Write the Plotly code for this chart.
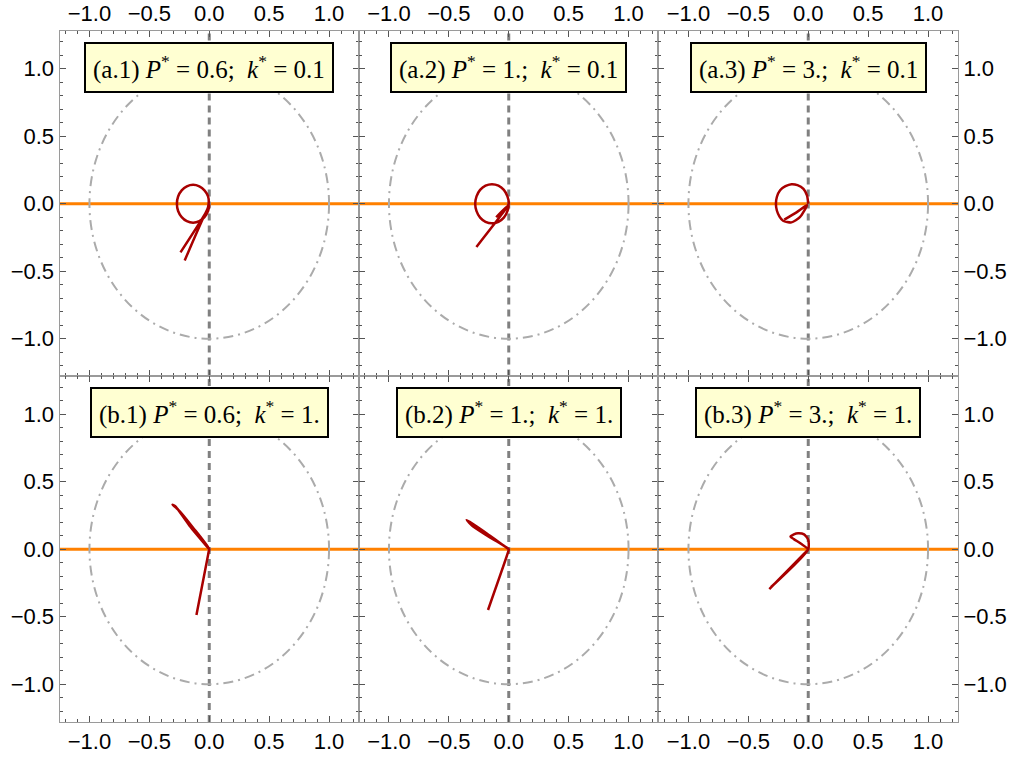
import plotly.graph_objects as go

# ---------------- data ----------------
panel_ids = ["(a.1)", "(a.2)", "(a.3)", "(b.1)", "(b.2)", "(b.3)"]
p_star = ["0.6", "1.", "3.", "0.6", "1.", "3."]
k_star = ["0.1", "0.1", "0.1", "1.", "1.", "1."]
tick_vals = [-1.0, -0.5, 0.0, 0.5, 1.0]
tick_text = ["\u22121.0", "\u22120.5", "0.0", "0.5", "1.0"]

a1_x = [-0.24, -0.02, -0.005, -0.010, -0.040, -0.083, -0.135, -0.187, -0.230, -0.260, -0.270,
        -0.260, -0.230, -0.187, -0.135, -0.083, -0.040, -0.010, 0.0, -0.205]
a1_y = [-0.36, -0.05, 0.0, 0.054, 0.099, 0.129, 0.14, 0.129, 0.099, 0.054, 0.0,
        -0.054, -0.099, -0.129, -0.14, -0.129, -0.099, -0.054, -0.01, -0.42]

a2_x = [-0.27, -0.01, 0.0, -0.011, -0.041, -0.086, -0.14, -0.194, -0.239, -0.269, -0.28,
        -0.269, -0.239, -0.194, -0.14, -0.086, -0.041, -0.011, -0.003, -0.105]
a2_y = [-0.32, -0.02, 0.0, 0.055, 0.103, 0.134, 0.145, 0.134, 0.103, 0.055, 0.0,
        -0.055, -0.103, -0.134, -0.145, -0.134, -0.103, -0.055, -0.012, -0.10]

a3_x = [0.0, -0.01, -0.04, -0.09, -0.14, -0.19, -0.235, -0.262, -0.27, -0.262, -0.24,
        -0.21, -0.14, -0.07, -0.01, -0.098, -0.20]
a3_y = [0.0, 0.06, 0.11, 0.138, 0.145, 0.13, 0.10, 0.05, 0.0, -0.05, -0.095,
        -0.126, -0.138, -0.10, -0.01, -0.064, -0.118]

b1_x = [-0.107, -0.005, 0.0, -0.135, -0.25, -0.307, -0.28, -0.165, 0.0]
b1_y = [-0.487, -0.02, 0.0, 0.16, 0.285, 0.33, 0.315, 0.175, 0.0]

b2_x = [-0.173, -0.005, 0.0, -0.17, -0.30, -0.352, -0.33, -0.18, 0.0]
b2_y = [-0.45, -0.02, 0.0, 0.095, 0.17, 0.217, 0.205, 0.115, 0.0]

b3_x = [-0.325, -0.01, 0.0, -0.06, -0.12, -0.148, -0.12, -0.085, -0.035, 0.0, 0.0, -0.31]
b3_y = [-0.295, -0.01, 0.0, 0.04, 0.075, 0.093, 0.11, 0.118, 0.11, 0.07, 0.0, -0.28]

curves_x = [a1_x, a2_x, a3_x, b1_x, b2_x, b3_x]
curves_y = [a1_y, a2_y, a3_y, b1_y, b2_y, b3_y]

# ---------------- layout ----------------
x_domains = [[0.05851, 0.35300], [0.35300, 0.64749], [0.64749, 0.94199]]
y_domains = [[0.50461, 0.95921], [0.05, 0.50461]]
x_range = [-1.25, 1.25]
y_range = [-1.28, 1.28]

RED = "#A80000"
ORANGE = "#FF8000"
DASHGRAY = "#808080"
CIRCGRAY = "#ABABAB"
TICKFONT = dict(family="Liberation Sans, Arial, sans-serif", size=22, color="black")
LABELFONT = dict(family="Liberation Serif, Times New Roman, serif", size=25, color="black")

fig = go.Figure()
layout = dict(
    width=1017, height=760,
    margin=dict(l=0, r=0, t=0, b=0),
    paper_bgcolor="white", plot_bgcolor="white",
    showlegend=False,
    shapes=[], annotations=[],
)

for i in range(6):
    row, col = divmod(i, 3)
    n = "" if i == 0 else str(i + 1)
    xa, ya = "x" + n, "y" + n

    axis_common = dict(
        showline=True, linecolor="#9A9A9A", linewidth=1, mirror="allticks",
        ticks="inside", ticklen=6, tickwidth=1, tickcolor="#555555",
        tickvals=tick_vals, ticktext=tick_text, tickfont=TICKFONT,
        minor=dict(ticks="inside", ticklen=3, dtick=0.1, tick0=0, tickcolor="#555555",
                   tickwidth=1, showgrid=False),
        showgrid=False, zeroline=False, fixedrange=True,
    )
    xaxis = dict(axis_common, domain=x_domains[col], range=x_range, anchor=ya,
                 side="top" if row == 0 else "bottom", showticklabels=True)
    yaxis = dict(axis_common, domain=y_domains[row], range=y_range, anchor=xa,
                 side="right" if col == 2 else "left", showticklabels=(col != 1))
    layout["xaxis" + n] = xaxis
    layout["yaxis" + n] = yaxis

    # unit circle (dash-dot)
    layout["shapes"].append(dict(type="circle", xref=xa, yref=ya, x0=-1, y0=-1, x1=1, y1=1,
                                 line=dict(color=CIRCGRAY, width=2, dash="10px,5px,2px,5px"),
                                 layer="below"))
    # orange horizontal axis line
    layout["shapes"].append(dict(type="line", xref=xa + " domain", yref=ya, x0=0, x1=1, y0=0, y1=0,
                                 line=dict(color=ORANGE, width=3), layer="below"))
    # dashed vertical line
    layout["shapes"].append(dict(type="line", xref=xa, yref=ya + " domain", x0=0, x1=0, y0=0, y1=1,
                                 line=dict(color=DASHGRAY, width=3, dash="7px,5px"), layer="below"))

    fig.add_trace(go.Scatter(x=curves_x[i], y=curves_y[i], mode="lines",
                             line=dict(color=RED, width=2.5, shape="spline", smoothing=0.6),
                             xaxis=xa, yaxis=ya, hoverinfo="skip"))

    text = (f"{panel_ids[i]} <i>P</i><sup>*</sup> = {p_star[i]};&nbsp; "
            f"<i>k</i><sup>*</sup> = {k_star[i]}")
    layout["annotations"].append(dict(
        text=text, xref=xa, yref=ya, x=0, y=1.012, xanchor="center", yanchor="middle",
        showarrow=False, font=LABELFONT, bgcolor="#FFFFD2", bordercolor="black",
        borderwidth=2, borderpad=7,
    ))

fig.update_layout(**layout)
fig.write_html("out.html", config={"displayModeBar": False},
               post_script="document.body.style.margin='0';document.body.style.overflow='hidden';")
